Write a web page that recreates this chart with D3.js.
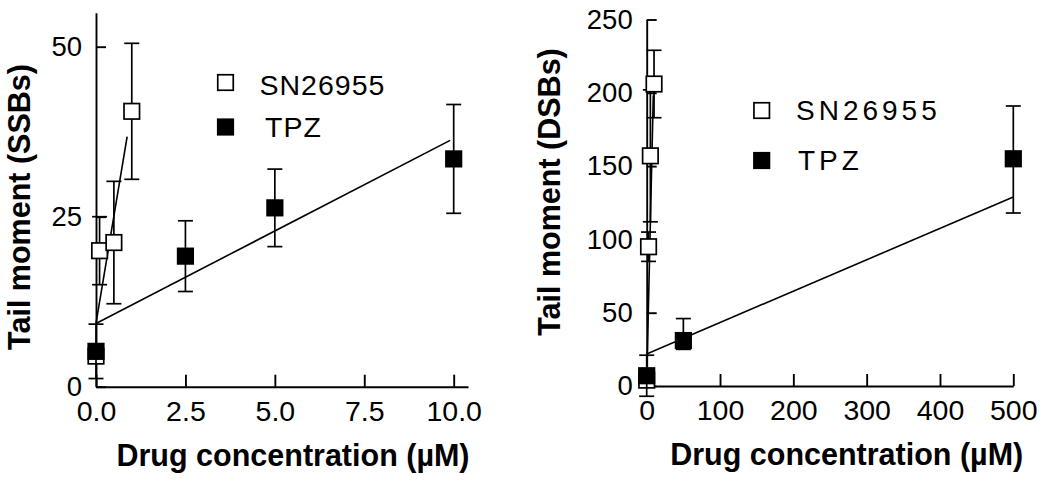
<!DOCTYPE html>
<html><head><meta charset="utf-8">
<script src="https://cdn.jsdelivr.net/npm/d3@7"></script>
<style>
body{margin:0;background:#fff}
svg{display:block}
text{font-family:"Liberation Sans",Arial,Helvetica,sans-serif;fill:#000}
</style>
</head><body>
<svg id="c" width="1050" height="485"></svg>
<script>
// ---------- DATA ----------
const seriesNames = ["SN26955", "TPZ"];

// Left panel: single-strand breaks
const ssbXTicks = [0, 2.5, 5, 7.5, 10];
const ssbYTicks = [0, 25, 50];
const ssbConcSN = [0, 0.1, 0.5, 1];
const ssbMeanSN = [4.5, 20, 21.2, 40.5];
const ssbErrSN  = [1, 5, 9, 10];
const ssbConcTPZ = [0, 2.5, 5, 10];
const ssbMeanTPZ = [5.2, 19.2, 26.3, 33.5];
const ssbErrTPZ  = [4, 5.2, 5.7, 8];
// fitted lines: [intercept, slope, x end]
const ssbFitSN  = [9.3, 31.6, 0.87];
const ssbFitTPZ = [9.3, 2.72, 9.9];

// Right panel: double-strand breaks
const dsbXTicks = [0, 100, 200, 300, 400, 500];
const dsbYTicks = [0, 50, 100, 150, 200, 250];
const dsbConcSN = [0, 2.5, 5, 10];
const dsbMeanSN = [4, 95, 157, 206];
const dsbErrSN  = [2, 10, 45, 23];
const dsbConcTPZ = [0, 50, 500];
const dsbMeanTPZ = [7, 31, 155];
const dsbErrLoTPZ = [14, 6, 37];
const dsbErrHiTPZ = [14, 15, 36];
const dsbFitSN  = [3, 21.7, 9];
const dsbFitTPZ = [21.9, 0.214, 500];

// ---------- DRAW ----------
const svg = d3.select("#c");
const SQ = 15.5, CAP = 15;

function panel(cfg) {
  const g = svg.append("g");
  const x = cfg.x, y = cfg.y;

  // fit lines
  cfg.fits.forEach(f => {
    g.append("line")
      .attr("x1", x(0)).attr("y1", y(f[0]))
      .attr("x2", x(f[2])).attr("y2", y(f[0] + f[1] * f[2]))
      .attr("stroke", "#000").attr("stroke-width", 1.6);
  });

  // axes
  const yAxis = d3.axisLeft(y).tickValues(cfg.yTicks).tickSize(-10).tickSizeOuter(0).tickPadding(14)
    .tickFormat(d3.format("d"));
  const xAxis = d3.axisBottom(x).tickValues(cfg.xTicks).tickSize(-12).tickSizeOuter(0).tickPadding(14)
    .tickFormat(cfg.xFormat);
  const ya = g.append("g").attr("transform", `translate(${x(0)},0)`).call(yAxis);
  const xa = g.append("g").attr("transform", `translate(0,${y(0)})`).call(xAxis);
  [ya, xa].forEach(a => {
    a.selectAll("path,line").attr("stroke", "#000").attr("stroke-width", 1.9);
    a.selectAll("text").attr("fill", "#000")
      .attr("font-family", '"Liberation Sans",Arial,sans-serif');
  });
  ya.selectAll("text").attr("font-size", 27.5);
  xa.selectAll("text").attr("font-size", 28.5);

  // series
  cfg.series.forEach(s => {
    s.x.forEach((cx, i) => {
      const lo = s.mean[i] - (s.errLo ? s.errLo[i] : s.err[i]);
      const hi = s.mean[i] + (s.errHi ? s.errHi[i] : s.err[i]);
      const px = x(cx);
      g.append("line").attr("x1", px).attr("x2", px).attr("y1", y(lo)).attr("y2", y(hi))
        .attr("stroke", "#000").attr("stroke-width", 1.7);
      [lo, hi].forEach(v => g.append("line")
        .attr("x1", px - CAP / 2).attr("x2", px + CAP / 2).attr("y1", y(v)).attr("y2", y(v))
        .attr("stroke", "#000").attr("stroke-width", 1.7));
    });
    s.x.forEach((cx, i) => {
      g.append("rect")
        .attr("x", x(cx) - SQ / 2).attr("y", y(s.mean[i]) - SQ / 2)
        .attr("width", SQ).attr("height", SQ)
        .attr("fill", s.filled ? "#000" : "#fff")
        .attr("stroke", "#000").attr("stroke-width", 1.7);
    });
  });

  // legend
  cfg.legend.forEach((L, i) => {
    g.append("rect").attr("x", L.sx - SQ / 2).attr("y", L.sy - SQ / 2)
      .attr("width", SQ).attr("height", SQ)
      .attr("fill", i === 1 ? "#000" : "#fff").attr("stroke", "#000").attr("stroke-width", 1.7);
    g.append("text").attr("x", L.tx).attr("y", L.ty).attr("font-size", L.fs)
      .attr("letter-spacing", L.ls).text(seriesNames[i]);
  });

  // titles
  g.append("text").attr("x", cfg.xt[0]).attr("y", cfg.xt[1]).attr("text-anchor", "middle")
    .attr("font-size", 30.5).attr("font-weight", "bold").text("Drug concentration (µM)");
  g.append("text").attr("transform", `translate(${cfg.yt[0]},${cfg.yt[1]}) rotate(-90)`)
    .attr("text-anchor", "middle").attr("font-size", 30.5).attr("font-weight", "bold").text(cfg.ytitle);
}

panel({
  x: d3.scaleLinear().domain([0, 10.4]).range([96, 468]),
  y: d3.scaleLinear().domain([0, 55]).range([386.7, 12.7]),
  xTicks: ssbXTicks, yTicks: ssbYTicks, xFormat: d3.format(".1f"),
  fits: [ssbFitSN, ssbFitTPZ],
  series: [
    {x: ssbConcSN, mean: ssbMeanSN, err: ssbErrSN, filled: false},
    {x: ssbConcTPZ, mean: ssbMeanTPZ, err: ssbErrTPZ, filled: true}
  ],
  legend: [
    {sx: 225.5, sy: 82.5, tx: 259.5, ty: 95, fs: 28.5, ls: 1},
    {sx: 225.5, sy: 127, tx: 265, ty: 137, fs: 28.5, ls: 1}
  ],
  xt: [293, 466], yt: [30, 207], ytitle: "Tail moment (SSBs)"
});

panel({
  x: d3.scaleLinear().domain([0, 500]).range([646.7, 1013.3]),
  y: d3.scaleLinear().domain([0, 250]).range([386, 19.5]),
  xTicks: dsbXTicks, yTicks: dsbYTicks, xFormat: d3.format("d"),
  fits: [dsbFitSN, dsbFitTPZ],
  series: [
    {x: dsbConcSN, mean: dsbMeanSN, err: dsbErrSN, filled: false},
    {x: dsbConcTPZ, mean: dsbMeanTPZ, errLo: dsbErrLoTPZ, errHi: dsbErrHiTPZ, filled: true}
  ],
  legend: [
    {sx: 761.7, sy: 110.5, tx: 796, ty: 119.5, fs: 28, ls: 4},
    {sx: 761.7, sy: 160.5, tx: 798, ty: 170, fs: 28, ls: 4}
  ],
  xt: [846.7, 464.5], yt: [560, 192], ytitle: "Tail moment (DSBs)"
});
</script>
</body></html>
